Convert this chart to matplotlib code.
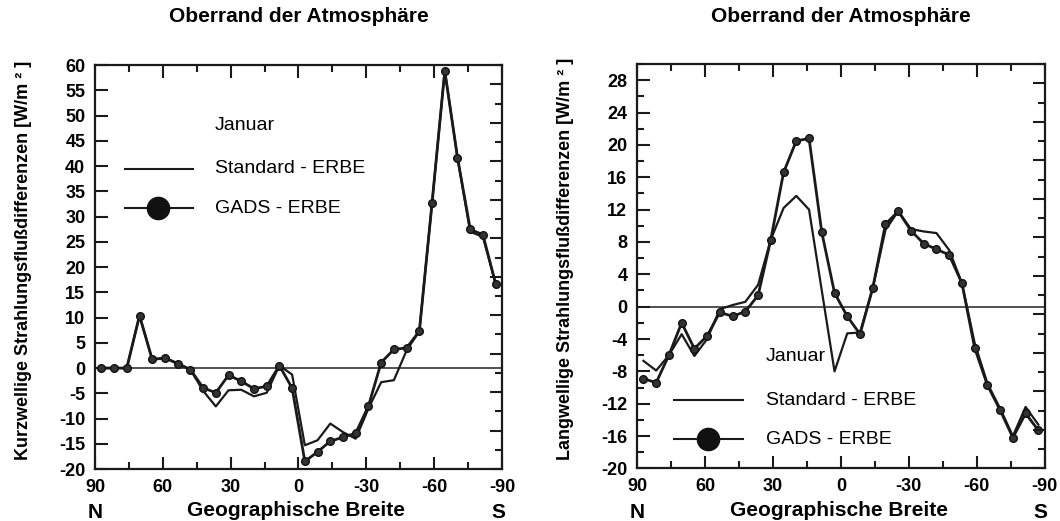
import numpy as np
import matplotlib
matplotlib.use("Agg")
import matplotlib.pyplot as plt
from matplotlib.ticker import MultipleLocator

plt.rcParams['font.family'] = ['Liberation Sans', 'DejaVu Sans']
plt.rcParams['axes.unicode_minus'] = False

# latitude zone centres (32 zones, N -> S)
lat = [87.19, 81.56, 75.94, 70.31, 64.69, 59.06, 53.44, 47.81,
       42.19, 36.56, 30.94, 25.31, 19.69, 14.06, 8.44, 2.81,
       -2.81, -8.44, -14.06, -19.69, -25.31, -30.94, -36.56, -42.19,
       -47.81, -53.44, -59.06, -64.69, -70.31, -75.94, -81.56, -87.19]

# shortwave differences (W/m^2)
std_sw = [0, 0, 0, 10.4, 1.7, 2.0, 0.9, -0.3,
          -4.5, -7.6, -4.4, -4.3, -5.6, -4.9, 0.5, -1.3,
          -15.3, -14.3, -11.0, -12.7, -14.0, -8.0, -2.8, -2.4,
          3.5, 7.3, 32.7, 58.9, 41.7, 27.0, 26.0, 16.7]
gads_sw = [0, 0, 0, 10.4, 1.7, 2.0, 0.9, -0.3,
           -3.9, -4.9, -1.4, -2.6, -4.1, -3.6, 0.5, -4.0,
           -18.5, -16.6, -14.5, -13.7, -12.9, -7.5, 1.1, 3.7,
           4.0, 7.3, 32.7, 58.9, 41.7, 27.5, 26.4, 16.7]

# longwave differences (W/m^2)
std_lw = [-6.7, -7.9, -6.0, -3.4, -6.1, -4.0, -0.3, 0.2,
          0.6, 2.7, 8.3, 12.2, 13.7, 12.0, 2.0, -8.0,
          -3.3, -3.2, 2.3, 9.5, 11.8, 9.6, 9.3, 9.1,
          7.0, 2.9, -4.5, -9.5, -12.6, -16.0, -12.4, -14.6]
gads_lw = [-8.9, -9.4, -6.0, -2.0, -5.2, -3.6, -0.7, -1.2,
           -0.6, 1.4, 8.3, 16.6, 20.5, 20.8, 9.2, 1.7,
           -1.2, -3.4, 2.3, 10.2, 11.8, 9.4, 7.8, 7.1,
           6.4, 2.9, -5.1, -9.7, -12.8, -16.2, -13.2, -15.3]

title = "Oberrand der Atmosphäre"
xlabel = "Geographische Breite"
ylabel_sw = "Kurzwellige Strahlungsflußdifferenzen [W/m ² ]"
ylabel_lw = "Langwellige Strahlungsflußdifferenzen [W/m ² ]"
month = "Januar"
name_std = "Standard - ERBE"
name_gads = "GADS - ERBE"

ink = '#1a1a1a'


def drawPanel(fig, ax, std, gads, ylim, ymajor, yminor, ylabel, legendPos):
    ax.axhline(0, color='#333333', lw=1.2, zorder=1)
    ax.plot(lat, std, color=ink, lw=1.6, zorder=2)
    ax.plot(lat, gads, color=ink, lw=2.0, marker='o', markersize=5.5,
            markerfacecolor='#333333', markeredgecolor='#111111', zorder=3)

    ax.set_xlim(90, -90)
    ax.set_ylim(*ylim)
    ax.xaxis.set_minor_locator(MultipleLocator(15))
    ax.yaxis.set_major_locator(MultipleLocator(ymajor))
    if yminor:
        ax.yaxis.set_minor_locator(MultipleLocator(yminor))
    ax.set_xticks([90, 60, 30, 0, -30, -60, -90])
    ax.set_xticklabels(['90', '60', '30', '0', '-30', '-60', '-90'])

    ax.tick_params(which='both', direction='in', top=True, right=False,
                   width=1.5, color=ink)
    ax.tick_params(which='major', length=9, labelsize=13, pad=7)
    ax.tick_params(which='minor', length=5)
    for lab in ax.get_xticklabels() + ax.get_yticklabels():
        lab.set_fontweight('bold')
    for sp in ax.spines.values():
        sp.set_linewidth(1.6)
        sp.set_color(ink)

    # extra ticks on the right spine
    ax2 = ax.twinx()
    ax2.set_ylim(0, 21)
    ax2.yaxis.set_major_locator(MultipleLocator(2))
    ax2.yaxis.set_minor_locator(MultipleLocator(1))
    ax2.tick_params(which='both', direction='in', labelright=False, width=1.5, color=ink)
    ax2.tick_params(which='major', length=9)
    ax2.tick_params(which='minor', length=5)
    for sp in ax2.spines.values():
        sp.set_visible(False)

    box = ax.get_position()
    fig.text(box.x0 + 0.5 * box.width, 1 - 17 / 521, title, ha='center', va='center',
             fontsize=15, fontweight='bold')
    ax.text(0.495, -0.103, xlabel, transform=ax.transAxes, ha='center', va='center',
            fontsize=15, fontweight='bold')
    ax.text(0.0, -0.108, "N", transform=ax.transAxes, ha='center', va='center',
            fontsize=15, fontweight='bold')
    ax.text(0.99, -0.108, "S", transform=ax.transAxes, ha='center', va='center',
            fontsize=15, fontweight='bold')
    ax.set_ylabel(ylabel, fontsize=13, fontweight='bold')
    ax.yaxis.set_label_coords(-0.155, 0.517)

    # hand-made legend
    tx, lx0, lx1, mx, y0, y1, y2 = legendPos
    ax.text(tx, y0, month, transform=ax.transAxes, va='center', fontsize=14)
    ax.plot([lx0, lx1], [y1, y1], transform=ax.transAxes, color=ink, lw=1.5)
    ax.text(tx, y1, name_std, transform=ax.transAxes, va='center', fontsize=14)
    ax.plot([lx0, lx1], [y2, y2], transform=ax.transAxes, color=ink, lw=1.5)
    ax.plot([mx], [y2], transform=ax.transAxes, marker='o', markersize=16,
            color='#111111')
    ax.text(tx, y2, name_gads, transform=ax.transAxes, va='center', fontsize=14)


fig = plt.figure(figsize=(10.6, 5.21), dpi=100)
axL = fig.add_axes([0.0896, 0.0998, 0.384, 0.775])
axR = fig.add_axes([0.601, 0.101, 0.3846, 0.776])

drawPanel(fig, axL, std_sw, gads_sw, (-20, 60), 5, None, ylabel_sw,
          (0.295, 0.074, 0.241, 0.155, 0.851, 0.743, 0.646))
drawPanel(fig, axR, std_lw, gads_lw, (-20, 30), 4, 2, ylabel_lw,
          (0.316, 0.090, 0.259, 0.174, 0.276, 0.169, 0.072))
axR.set_yticks(np.arange(-20, 29, 4))

fig.savefig("out.png", dpi=100)
